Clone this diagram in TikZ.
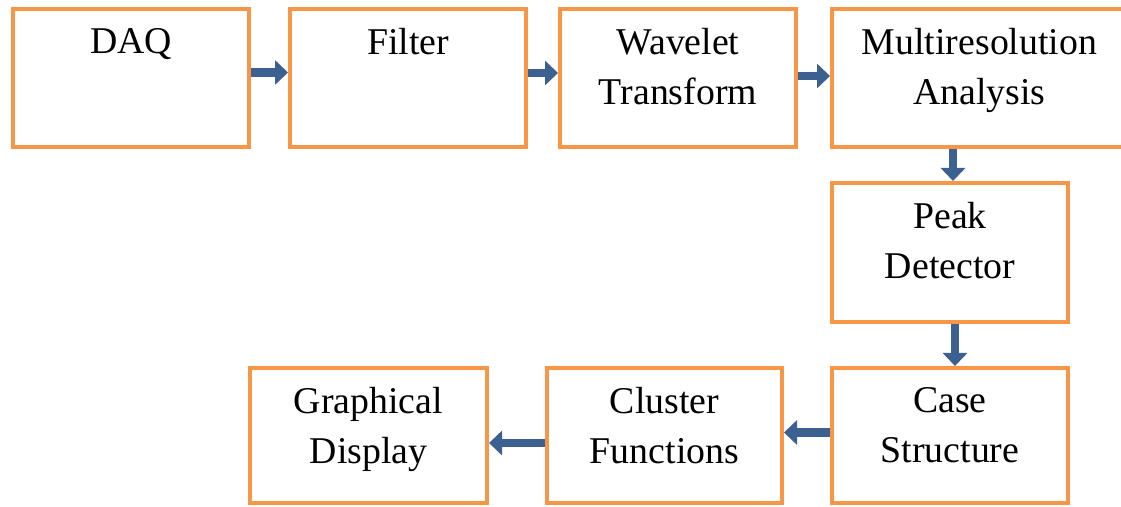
\documentclass[tikz,border=0pt]{standalone}
\usepackage{fontspec}
\setmainfont{Liberation Serif}
\usetikzlibrary{arrows.meta,calc}
\definecolor{boxorange}{HTML}{F79646}
\definecolor{arrowblue}{HTML}{3C6191}
\begin{document}
\begin{tikzpicture}[x=1pt,y=1pt,
  blk/.style={draw=boxorange, line width=4pt, fill=white, inner sep=0pt, minimum height=138pt},
  lbl/.style={anchor=north, inner sep=0pt, align=center, font=\fontsize{37.8}{50}\selectfont, text=black},
  flow/.style={draw=arrowblue, line width=8.5pt, -{Triangle[width=24pt 0,length=13pt 0 0]}, fill=arrowblue}]
\useasboundingbox (0,0) rectangle (1121,506);
% boxes (y = 506 - pixel y)
\node[blk, minimum width=236pt] (daq) at (131,428) {};
\node[blk, minimum width=236pt] (filter) at (408,428) {};
\node[blk, minimum width=236pt] (wave) at (678,428) {};
\node[blk, minimum width=295pt] (multi) at (979.5,428) {};
\node[blk, minimum width=236pt, minimum height=139pt] (peak) at (950,253.5) {};
\node[blk, minimum width=236pt, minimum height=135pt] (case) at (950,70.5) {};
\node[blk, minimum width=235pt, minimum height=135pt] (cluster) at (664.5,70.5) {};
\node[blk, minimum width=237pt, minimum height=135pt] (graph) at (368.5,70.5) {};
% labels
\node[lbl] (daqt) at ([yshift=-21pt]daq.north) {DAQ};
\node[lbl] (filtert) at ([yshift=-21pt]filter.north) {Filter};
\node[lbl] (wavet) at ([yshift=-21pt]wave.north) {Wavelet\\Transform};
\node[lbl] (multit) at ([yshift=-21pt]multi.north) {Multiresolution\\Analysis};
\node[lbl] (peakt) at ([yshift=-21pt]peak.north) {Peak\\Detector};
\node[lbl] (caset) at ([yshift=-21pt]case.north) {Case\\Structure};
\node[lbl] (clustert) at ([yshift=-21pt]cluster.north) {Cluster\\Functions};
\node[lbl] (grapht) at ([yshift=-21pt]graph.north) {Graphical\\Display};
% arrows
\draw[flow] ([yshift=5.5pt]daq.east) -- ([yshift=5.5pt]filter.west);
\draw[flow] ([yshift=5pt]filter.east) -- ([yshift=5pt]wave.west);
\draw[flow] ([yshift=2pt]wave.east) -- ([yshift=2pt]multi.west);
\draw[flow] ([xshift=3pt]peak.north |- multi.south) -- ([xshift=3pt]peak.north);
\draw[flow] ([xshift=5pt]peak.south) -- ([xshift=5pt]case.north);
\draw[flow] ([yshift=3pt]case.west) -- ([yshift=3pt]cluster.east);
\draw[flow] ([yshift=-7.5pt]cluster.west) -- ([yshift=-7.5pt]graph.east);
\end{tikzpicture}
\end{document}
